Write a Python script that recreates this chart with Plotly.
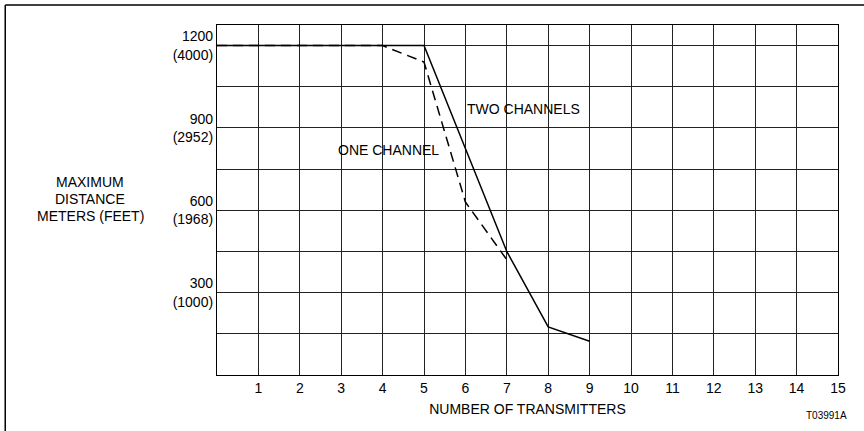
import plotly.graph_objects as go

# Data
two_x = [0, 1, 2, 3, 4, 5, 6, 7, 8, 9]
two_y = [1200, 1200, 1200, 1200, 1200, 1200, 825, 450, 175, 123]
one_x = [0, 1, 2, 3, 4, 5, 6, 7]
one_y = [1200, 1200, 1200, 1200, 1200, 1140, 630, 420]

x_ticks = list(range(1, 16))
y_grid = [150, 300, 450, 600, 750, 900, 1050, 1200]
y_labels = {300: "300<br>(1000)", 600: "600<br>(1968)", 900: "900<br>(2952)", 1200: "1200<br>(4000)"}
y_title_lines = ["MAXIMUM", "DISTANCE", "METERS (FEET)"]

FONT = "Liberation Sans, Arial, Helvetica, sans-serif"
FS = 14

fig = go.Figure()
fig.add_trace(go.Scatter(x=two_x, y=two_y, mode="lines",
                         line=dict(color="black", width=1.5), showlegend=False))
fig.add_trace(go.Scatter(x=one_x, y=one_y, mode="lines",
                         line=dict(color="black", width=1.5, dash="10px,6px"), showlegend=False))

fig.add_annotation(x=6.0, y=970, text="TWO CHANNELS", showarrow=False, xanchor="left", yanchor="middle",
                   font=dict(family=FONT, size=FS, color="black"))
fig.add_annotation(x=2.88, y=821, text="ONE CHANNEL", showarrow=False, xanchor="left", yanchor="middle",
                   font=dict(family=FONT, size=FS, color="black"))

for line, yp in zip(y_title_lines, [0.551, 0.503, 0.455]):
    fig.add_annotation(xref="paper", yref="paper", x=-0.2045, y=yp, xanchor="center", yanchor="middle",
                       text=line, showarrow=False, borderpad=0,
                       font=dict(family=FONT, size=FS, color="black"))
fig.add_annotation(xref="paper", yref="paper", x=1.0175, y=-0.117, xanchor="right", yanchor="middle",
                   text="T03991A", showarrow=False, font=dict(family=FONT, size=10, color="black"))

# outer frame lines (top and left)
fig.add_shape(type="line", xref="paper", yref="paper", x0=-0.341, x1=1.05, y0=1.057, y1=1.057,
              line=dict(color="black", width=1.5))
fig.add_shape(type="line", xref="paper", yref="paper", x0=-0.341, x1=-0.341, y0=1.057, y1=-0.2,
              line=dict(color="black", width=1.5))

fig.update_xaxes(range=[0, 15], tickmode="array", tickvals=x_ticks, ticktext=[str(v) for v in x_ticks],
                 showgrid=True, gridcolor="#222", gridwidth=1, zeroline=False,
                 showline=True, linecolor="black", linewidth=1.2, mirror=True,
                 ticks="", tickfont=dict(family=FONT, size=FS, color="black"),
                 title=dict(text="NUMBER OF TRANSMITTERS", font=dict(family=FONT, size=FS, color="black"), standoff=9))
fig.update_yaxes(range=[0, 1275], tickmode="array", tickvals=y_grid,
                 ticktext=[y_labels.get(v, "") for v in y_grid],
                 showgrid=True, gridcolor="#222", gridwidth=1, zeroline=False,
                 showline=True, linecolor="black", linewidth=1.2, mirror=True,
                 ticks="", tickfont=dict(family=FONT, size=FS, color="black"))

fig.update_layout(width=864, height=431, margin=dict(l=217, r=26, t=25, b=56),
                  plot_bgcolor="white", paper_bgcolor="white")

fig.write_html("out.html", config={"displayModeBar": False},
               post_script="document.body.style.margin='0';")
